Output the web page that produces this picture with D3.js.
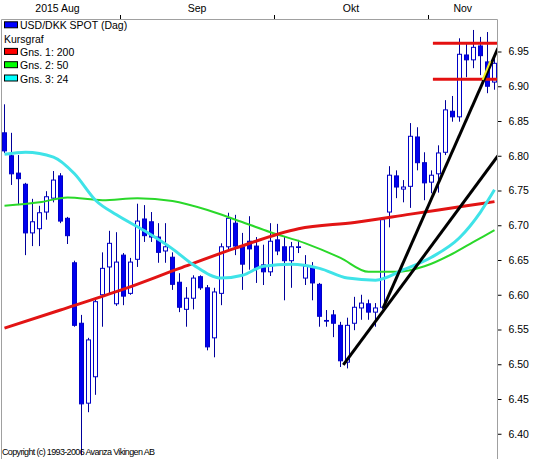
<!DOCTYPE html>
<html>
<head>
<meta charset="utf-8">
<script src="https://cdn.jsdelivr.net/npm/d3@7"></script>
<style>
  body { margin: 0; background: #fff; }
  svg { display: block; }
  text { font-family: "Liberation Sans", Arial, sans-serif; }
</style>
</head>
<body>
<script>
// frame + plot box
const FRAME_WIDTH = 533;
const FRAME_HEIGHT = 459;
const PLOT = {left: 1.5, right: 497.5, top: 19.5, bottom: 460};

// daily candles, 7 Aug - 13 Nov 2015 (one entry per trading day)
const OPEN  = [6.833, 6.800, 6.775, 6.759, 6.689, 6.695, 6.719, 6.739, 6.771, 6.710,
               6.646, 6.559, 6.444, 6.482, 6.600, 6.640, 6.587, 6.657, 6.602, 6.651,
               6.709, 6.705, 6.683, 6.663, 6.654, 6.618, 6.579, 6.595, 6.626, 6.610,
               6.538, 6.602, 6.669, 6.703, 6.669, 6.677, 6.670, 6.643, 6.633, 6.679,
               6.669, 6.649, 6.668, 6.624, 6.640, 6.615, 6.563, 6.571, 6.556, 6.503,
               6.559, 6.581, 6.587, 6.575, 6.582, 6.719, 6.771, 6.752, 6.756, 6.827,
               6.790, 6.762, 6.774, 6.805, 6.864, 6.856, 6.945, 6.938, 6.958, 6.935,
               6.906];
const HIGH  = [6.874, 6.833, 6.801, 6.761, 6.738, 6.728, 6.749, 6.778, 6.775, 6.712,
               6.649, 6.571, 6.538, 6.595, 6.661, 6.692, 6.690, 6.660, 6.653, 6.731,
               6.729, 6.719, 6.703, 6.703, 6.661, 6.631, 6.611, 6.628, 6.628, 6.614,
               6.610, 6.674, 6.718, 6.715, 6.689, 6.713, 6.683, 6.672, 6.703, 6.702,
               6.683, 6.676, 6.679, 6.657, 6.647, 6.617, 6.578, 6.578, 6.561, 6.567,
               6.597, 6.600, 6.593, 6.588, 6.710, 6.785, 6.779, 6.765, 6.847, 6.841,
               6.805, 6.779, 6.815, 6.880, 6.886, 6.969, 6.962, 6.981, 6.971, 6.978,
               6.942];
const LOW   = [6.804, 6.758, 6.729, 6.657, 6.670, 6.670, 6.708, 6.733, 6.703, 6.673,
               6.554, 6.369, 6.431, 6.456, 6.554, 6.600, 6.584, 6.585, 6.600, 6.640,
               6.676, 6.676, 6.646, 6.646, 6.607, 6.575, 6.554, 6.579, 6.607, 6.520,
               6.510, 6.585, 6.664, 6.657, 6.607, 6.636, 6.617, 6.614, 6.627, 6.657,
               6.592, 6.610, 6.660, 6.614, 6.592, 6.554, 6.554, 6.539, 6.496, 6.494,
               6.549, 6.564, 6.564, 6.554, 6.579, 6.697, 6.739, 6.733, 6.725, 6.779,
               6.736, 6.746, 6.747, 6.801, 6.849, 6.849, 6.913, 6.926, 6.916, 6.890,
               6.895];
const CLOSE = [6.807, 6.774, 6.767, 6.689, 6.705, 6.718, 6.741, 6.765, 6.706, 6.685,
               6.556, 6.443, 6.535, 6.590, 6.638, 6.674, 6.647, 6.598, 6.647, 6.706,
               6.685, 6.683, 6.661, 6.669, 6.615, 6.582, 6.595, 6.624, 6.610, 6.525,
               6.604, 6.669, 6.710, 6.670, 6.644, 6.666, 6.638, 6.633, 6.677, 6.663,
               6.649, 6.669, 6.669, 6.641, 6.617, 6.569, 6.562, 6.559, 6.505, 6.556,
               6.582, 6.588, 6.575, 6.581, 6.708, 6.772, 6.755, 6.755, 6.828, 6.790,
               6.761, 6.772, 6.804, 6.866, 6.856, 6.946, 6.938, 6.956, 6.944, 6.900,
               6.933];

// moving averages, read at selected candle indices
const MA200_IDX = [0, 8, 17, 25, 33, 42, 50, 58, 66, 70];
const MA200     = [6.552, 6.578, 6.608, 6.638, 6.667, 6.695, 6.704, 6.716, 6.728, 6.734];
const MA50_IDX  = [0, 5, 9, 14, 19, 24, 29, 33, 38, 43, 48, 52, 56, 60, 64, 67, 70];
const MA50      = [6.728, 6.733, 6.740, 6.736, 6.739, 6.735, 6.722, 6.708, 6.690, 6.674,
                   6.653, 6.633, 6.633, 6.641, 6.659, 6.676, 6.693];
const MA24_IDX  = [0, 3, 7, 10, 13, 16, 20, 24, 27, 31, 34, 37, 41, 45, 49, 53, 57, 61, 65, 68, 70];
const MA24      = [6.802, 6.805, 6.798, 6.774, 6.736, 6.715, 6.692, 6.666, 6.643, 6.624,
                   6.628, 6.641, 6.644, 6.638, 6.624, 6.621, 6.636, 6.654, 6.682, 6.719, 6.751];

// drawn annotations: [index, price]
const TREND_1 = [[48.4, 6.499], [70.5, 6.800]];
const TREND_2 = [[54.1, 6.581], [70.5, 6.955]];
const LEVELS = [6.962, 6.910];
const LEVEL_FROM = 61.2;
const YELLOW_SEG = [[68.3, 6.909], [69.4, 6.936]];

// axes
const Y_TICKS = [6.40, 6.45, 6.50, 6.55, 6.60, 6.65, 6.70, 6.75, 6.80, 6.85, 6.90, 6.95];
const MONTHS = ["2015 Aug", "Sep", "Okt", "Nov"];
const MONTH_START = [0, 17, 39, 61];

const LEGEND = [
  {label: "USD/DKK SPOT (Dag)", color: "#0000ff"},
  {label: "Kursgraf", color: null},
  {label: "Gns. 1: 200", color: "#ff0000"},
  {label: "Gns. 2: 50", color: "#00ff00"},
  {label: "Gns. 3: 24", color: "#00ffff"}
];

const N = OPEN.length;
const candles = d3.range(N).map((i) => ({i: i, o: OPEN[i], h: HIGH[i], l: LOW[i], c: CLOSE[i]}));

const X_SCALE = d3.scaleLinear().domain([0, N - 1]).range([4.5, 4.5 + 7 * (N - 1)]);
const Y_SCALE = d3.scaleLinear().domain([6.40, 6.95]).range([433.75, 51.5]);

const FRAME = d3.select("body")
  .append("svg")
    .attr("width", FRAME_WIDTH)
    .attr("height", FRAME_HEIGHT);

FRAME.append("clipPath").attr("id", "plotclip")
  .append("rect")
    .attr("x", PLOT.left).attr("y", PLOT.top)
    .attr("width", PLOT.right - PLOT.left).attr("height", PLOT.bottom - PLOT.top);

// month labels + separators on top
const stepPx = 7;
FRAME.selectAll(".month")
  .data(MONTHS)
  .enter()
  .append("text")
    .attr("x", (d, k) => {
      const a = X_SCALE(MONTH_START[k]) - stepPx / 2;
      const b = k + 1 < MONTH_START.length ? X_SCALE(MONTH_START[k + 1]) - stepPx / 2 : PLOT.right;
      return (a + b) / 2 - (k === 0 ? 3 : 0);
    })
    .attr("y", 12)
    .attr("text-anchor", "middle")
    .attr("font-size", "10.5px")
    .attr("fill", "#000")
    .text((d) => d);

FRAME.selectAll(".mtick")
  .data(MONTH_START.slice(1))
  .enter()
  .append("line")
    .attr("x1", (d) => Math.round(X_SCALE(d) - stepPx / 2) + 0.5)
    .attr("x2", (d) => Math.round(X_SCALE(d) - stepPx / 2) + 0.5)
    .attr("y1", 15).attr("y2", 19)
    .attr("stroke", "#000");

// right price axis
const yAxis = FRAME.append("g")
  .attr("transform", "translate(" + PLOT.right + ",0)")
  .call(d3.axisRight(Y_SCALE).tickValues(Y_TICKS).tickFormat(d3.format(".2f")).tickSize(4).tickPadding(7));
yAxis.select(".domain").remove();
yAxis.selectAll("line").attr("stroke", "#000");
yAxis.selectAll("text")
  .attr("font-size", "10.5px")
  .attr("font-family", "Liberation Sans, Arial, sans-serif")
  .attr("fill", "#000");

const PLOT_G = FRAME.append("g").attr("clip-path", "url(#plotclip)");

// wicks
PLOT_G.selectAll(".wick")
  .data(candles)
  .enter()
  .append("line")
    .attr("x1", (d) => X_SCALE(d.i))
    .attr("x2", (d) => X_SCALE(d.i))
    .attr("y1", (d) => Y_SCALE(d.h))
    .attr("y2", (d) => Y_SCALE(d.l))
    .attr("stroke", "#00009a")
    .attr("stroke-width", 1);

// bodies: filled blue when down, white when up
PLOT_G.selectAll(".body")
  .data(candles)
  .enter()
  .append("rect")
    .attr("x", (d) => X_SCALE(d.i) - 2)
    .attr("width", 4)
    .attr("y", (d) => Y_SCALE(Math.max(d.o, d.c)))
    .attr("height", (d) => Math.max(0.5, Math.abs(Y_SCALE(d.o) - Y_SCALE(d.c))))
    .attr("fill", (d) => d.c < d.o ? "#0000ee" : "#ffffff")
    .attr("stroke", "#0000c8")
    .attr("stroke-width", 1);

// moving averages
const maLine = d3.line()
  .x((d) => X_SCALE(d[0]))
  .y((d) => Y_SCALE(d[1]))
  .curve(d3.curveMonotoneX);

const MAS = [
  {idx: MA50_IDX, val: MA50, color: "#2ad82a", width: 2},
  {idx: MA200_IDX, val: MA200, color: "#e21414", width: 3},
  {idx: MA24_IDX, val: MA24, color: "#3fe3e8", width: 3}
];
MAS.forEach((m) => {
  PLOT_G.append("path")
    .datum(m.idx.map((k, j) => [k, m.val[j]]))
    .attr("d", maLine)
    .attr("fill", "none")
    .attr("stroke", m.color)
    .attr("stroke-width", m.width);
});

// horizontal levels
PLOT_G.selectAll(".level")
  .data(LEVELS)
  .enter()
  .append("line")
    .attr("x1", X_SCALE(LEVEL_FROM))
    .attr("x2", PLOT.right)
    .attr("y1", (d) => Y_SCALE(d))
    .attr("y2", (d) => Y_SCALE(d))
    .attr("stroke", "#e41010")
    .attr("stroke-width", 3);

// trend lines
const straight = d3.line().x((d) => X_SCALE(d[0])).y((d) => Y_SCALE(d[1]));
[TREND_1, TREND_2].forEach((t) => {
  PLOT_G.append("path")
    .attr("d", straight(t))
    .attr("fill", "none")
    .attr("stroke", "#000")
    .attr("stroke-width", 3);
});
PLOT_G.append("path")
  .attr("d", straight(YELLOW_SEG))
  .attr("stroke", "#f0f020")
  .attr("stroke-width", 2);

// frame border
FRAME.append("path")
  .attr("d", "M" + PLOT.left + "," + PLOT.bottom + "V" + PLOT.top + "H" + PLOT.right + "V" + PLOT.bottom)
  .attr("fill", "none")
  .attr("stroke", "#a0a0a0");

// legend
const LEG = FRAME.append("g");
LEGEND.forEach((item, k) => {
  const base = 29.3 + k * 13.3;
  if (item.color) {
    LEG.append("rect")
      .attr("x", 4.5).attr("y", base - 7.5)
      .attr("width", 13).attr("height", 6)
      .attr("fill", item.color)
      .attr("stroke", "#000");
  }
  LEG.append("text")
    .attr("x", item.color ? 20 : 4)
    .attr("y", base)
    .attr("font-size", "10.5px")
    .attr("fill", "#000")
    .text(item.label);
});

// copyright
FRAME.append("text")
  .attr("x", 2)
  .attr("y", 455)
  .attr("font-family", "Liberation Serif, Times New Roman, serif")
  .attr("font-size", "9px")
  .attr("textLength", 153)
  .attr("fill", "#000")
  .text("Copyright (c) 1993-2006 Avanza Vikingen AB");
</script>
</body>
</html>
